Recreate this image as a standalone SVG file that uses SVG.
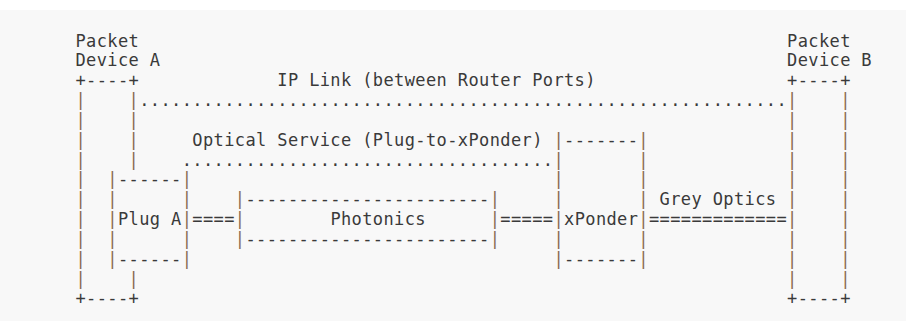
<svg xmlns="http://www.w3.org/2000/svg" width="920" height="321" viewBox="0 0 920 321" xml:space="preserve">
<style>
text { font-family: "DejaVu Sans Mono", "Liberation Mono", monospace; font-size: 17px; letter-spacing: 0.385px; fill: #3a3a3a; white-space: pre; }
.p { fill: #8a6a50; }
</style>
<rect x="0" y="0" width="920" height="321" fill="#ffffff"/>
<rect x="0" y="10" width="906" height="311" fill="#f8f8f8"/>
<g id="device-a">
<text x="75.5" y="46.5">Packet</text>
<text x="75.5" y="66.3">Device A</text>
<text x="75.5" y="86.2">+----+</text>
<text x="75.5" y="304.4">+----+</text>
<text class="p"><tspan x="75.5" y="106">|</tspan><tspan x="75.5" y="125.9">|</tspan><tspan x="75.5" y="145.7">|</tspan><tspan x="75.5" y="165.5">|</tspan><tspan x="75.5" y="185.4">|</tspan><tspan x="75.5" y="205.2">|</tspan><tspan x="75.5" y="225.1">|</tspan><tspan x="75.5" y="244.9">|</tspan><tspan x="75.5" y="264.7">|</tspan><tspan x="75.5" y="284.6">|</tspan></text>
<text class="p"><tspan x="128.6" y="106">|</tspan><tspan x="128.6" y="125.9">|</tspan><tspan x="128.6" y="145.7">|</tspan><tspan x="128.6" y="165.5">|</tspan><tspan x="128.6" y="284.6">|</tspan></text>
</g>
<g id="plug-a">
<text class="p"><tspan x="107.36" y="185.4">|</tspan><tspan x="107.36" y="205.2">|</tspan><tspan x="107.36" y="225.1">|</tspan><tspan x="107.36" y="244.9">|</tspan><tspan x="107.36" y="264.7">|</tspan></text>
<text class="p"><tspan x="181.7" y="185.4">|</tspan><tspan x="181.7" y="205.2">|</tspan><tspan x="181.7" y="225.1">|</tspan><tspan x="181.7" y="244.9">|</tspan><tspan x="181.7" y="264.7">|</tspan></text>
<text x="117.98" y="185.4">------</text>
<text x="117.98" y="264.7">------</text>
<text x="117.98" y="225.1">Plug A</text>
</g>
<g id="photonics">
<text class="p"><tspan x="234.8" y="205.2">|</tspan><tspan x="234.8" y="225.1">|</tspan><tspan x="234.8" y="244.9">|</tspan></text>
<text class="p"><tspan x="489.68" y="205.2">|</tspan><tspan x="489.68" y="225.1">|</tspan><tspan x="489.68" y="244.9">|</tspan></text>
<text x="245.42" y="205.2">-----------------------</text>
<text x="245.42" y="244.9">-----------------------</text>
<text x="330.38" y="225.1">Photonics</text>
</g>
<g id="xponder">
<text class="p"><tspan x="553.4" y="145.7">|</tspan><tspan x="553.4" y="165.5">|</tspan><tspan x="553.4" y="185.4">|</tspan><tspan x="553.4" y="205.2">|</tspan><tspan x="553.4" y="225.1">|</tspan><tspan x="553.4" y="244.9">|</tspan><tspan x="553.4" y="264.7">|</tspan></text>
<text class="p"><tspan x="638.36" y="145.7">|</tspan><tspan x="638.36" y="165.5">|</tspan><tspan x="638.36" y="185.4">|</tspan><tspan x="638.36" y="205.2">|</tspan><tspan x="638.36" y="225.1">|</tspan><tspan x="638.36" y="244.9">|</tspan><tspan x="638.36" y="264.7">|</tspan></text>
<text x="564.02" y="145.7">-------</text>
<text x="564.02" y="264.7">-------</text>
<text x="564.02" y="225.1">xPonder</text>
</g>
<g id="device-b">
<text x="787.04" y="46.5">Packet</text>
<text x="787.04" y="66.3">Device B</text>
<text x="787.04" y="86.2">+----+</text>
<text x="787.04" y="304.4">+----+</text>
<text class="p"><tspan x="787.04" y="106">|</tspan><tspan x="787.04" y="125.9">|</tspan><tspan x="787.04" y="145.7">|</tspan><tspan x="787.04" y="165.5">|</tspan><tspan x="787.04" y="185.4">|</tspan><tspan x="787.04" y="205.2">|</tspan><tspan x="787.04" y="225.1">|</tspan><tspan x="787.04" y="244.9">|</tspan><tspan x="787.04" y="264.7">|</tspan><tspan x="787.04" y="284.6">|</tspan></text>
<text class="p"><tspan x="840.14" y="106">|</tspan><tspan x="840.14" y="125.9">|</tspan><tspan x="840.14" y="145.7">|</tspan><tspan x="840.14" y="165.5">|</tspan><tspan x="840.14" y="185.4">|</tspan><tspan x="840.14" y="205.2">|</tspan><tspan x="840.14" y="225.1">|</tspan><tspan x="840.14" y="244.9">|</tspan><tspan x="840.14" y="264.7">|</tspan><tspan x="840.14" y="284.6">|</tspan></text>
</g>
<g id="connectors">
<text x="277.28" y="86.2">IP Link (between Router Ports)</text>
<text x="139.22" y="106">.............................................................</text>
<text x="192.32" y="145.7">Optical Service (Plug-to-xPonder)</text>
<text x="181.7" y="165.5">...................................</text>
<text x="192.32" y="225.1">====</text>
<text x="500.3" y="225.1">=====</text>
<text x="648.98" y="225.1">=============</text>
<text x="659.6" y="205.2">Grey Optics</text>
</g>
</svg>
